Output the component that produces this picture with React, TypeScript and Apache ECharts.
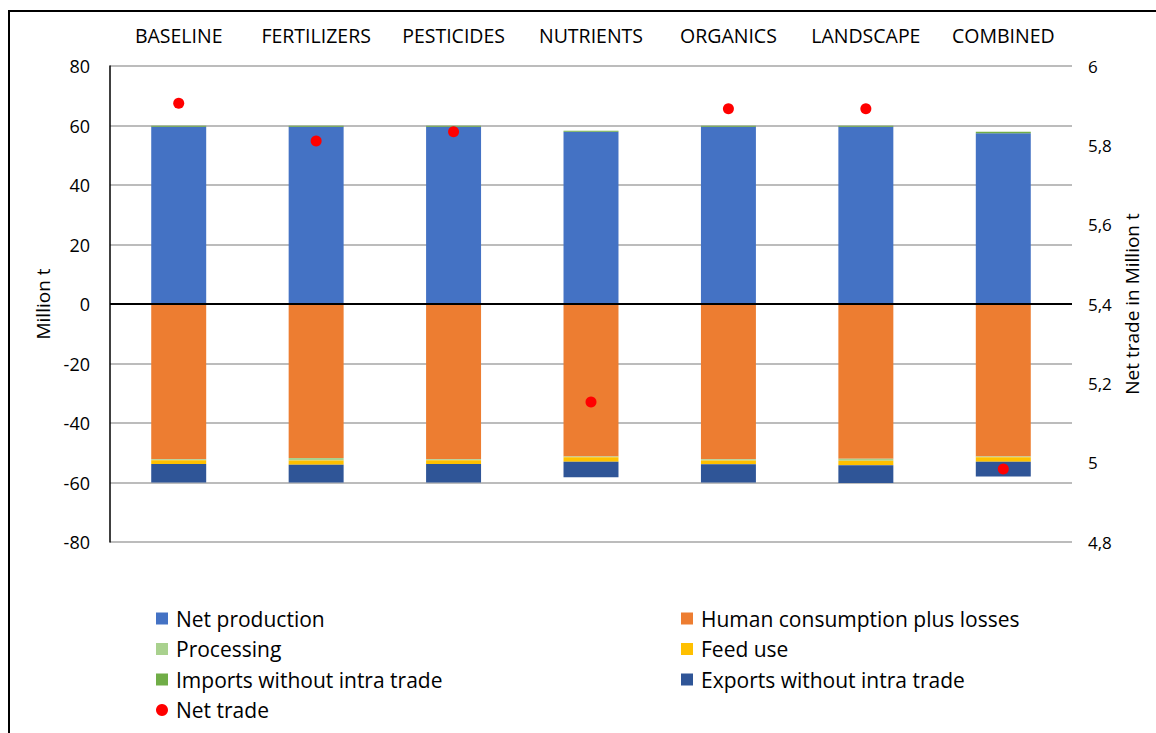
import React, { useEffect, useRef } from "react";
import * as echarts from "echarts";

const categories = ["BASELINE", "FERTILIZERS", "PESTICIDES", "NUTRIENTS", "ORGANICS", "LANDSCAPE", "COMBINED"];
const netProduction = [59.6, 59.6, 59.6, 57.9, 59.6, 59.6, 57.4];
const humanConsumption = [-52.2, -51.8, -52.2, -51.3, -52.2, -52.0, -51.3];
const processing = [-0.3, -0.8, -0.3, -0.2, -0.4, -0.7, -0.2];
const feedUse = [-1.3, -1.4, -1.3, -1.5, -1.3, -1.5, -1.5];
const imports = [0.3, 0.3, 0.3, 0.3, 0.3, 0.3, 0.5];
const exportsData = [-6.2, -6.0, -6.2, -5.2, -6.1, -6.0, -5.0];
const netTrade = [5.906, 5.811, 5.834, 5.153, 5.892, 5.892, 4.984];

const FONT = "'Open Sans', 'Noto Sans', sans-serif";

export default function App() {
  const ref = useRef<HTMLDivElement>(null);
  useEffect(() => {
    if (!ref.current) return;
    const chart = echarts.init(ref.current, null, { renderer: "svg" });
    const barBase = { type: "bar", stack: "total", barWidth: "40%", yAxisIndex: 0 };
    const legendText = { fontSize: 21, color: "#000", lineHeight: 21, fontFamily: FONT, padding: [0, 0, 0, 3] };
    chart.setOption({
      animation: false,
      backgroundColor: "#fff",
      textStyle: { fontFamily: FONT },
      grid: { left: 110, right: 84, top: 66, bottom: 191, containLabel: false },
      xAxis: {
        type: "category",
        data: categories,
        position: "top",
        axisLine: { show: false },
        axisTick: { show: false },
        axisLabel: { fontSize: 19.5, color: "#000", margin: 21, interval: 0, hideOverlap: false, fontFamily: FONT },
      },
      yAxis: [
        {
          type: "value",
          min: -80,
          max: 80,
          interval: 20,
          name: "Million t",
          nameLocation: "middle",
          nameGap: 53,
          nameTextStyle: { fontSize: 19, color: "#000", fontFamily: FONT },
          axisLine: { show: true, lineStyle: { color: "#000", width: 1.5 } },
          axisTick: { show: false },
          axisLabel: { fontSize: 18, color: "#000", margin: 20, fontFamily: FONT },
          splitLine: { show: true, lineStyle: { color: "#A6A6A6", width: 1.5 } },
        },
        {
          type: "value",
          min: 4.8,
          max: 6,
          interval: 0.2,
          position: "right",
          name: "Net trade in Million t",
          nameLocation: "middle",
          nameGap: 48,
          nameTextStyle: { fontSize: 19, color: "#000", fontFamily: FONT },
          axisLine: { show: false },
          axisTick: { show: false },
          splitLine: { show: false },
          axisLabel: {
            fontSize: 17,
            color: "#000",
            margin: 16,
            fontFamily: FONT,
            formatter: (v: number) => String(parseFloat(v.toFixed(2))).replace(".", ","),
          },
        },
      ],
      legend: [
        {
          orient: "vertical",
          left: 151,
          top: 603,
          itemWidth: 12,
          itemHeight: 12,
          itemGap: 9.5,
          textStyle: legendText,
          data: [
            { name: "Net production", icon: "rect" },
            { name: "Processing", icon: "rect" },
            { name: "Imports without intra trade", icon: "rect" },
            { name: "Net trade", icon: "circle" },
          ],
        },
        {
          orient: "vertical",
          left: 676,
          top: 603,
          itemWidth: 12,
          itemHeight: 12,
          itemGap: 9.5,
          textStyle: legendText,
          data: [
            { name: "Human consumption plus losses", icon: "rect" },
            { name: "Feed use", icon: "rect" },
            { name: "Exports without intra trade", icon: "rect" },
          ],
        },
      ],
      graphic: [
        { type: "line", shape: { x1: 9, y1: 11, x2: 9, y2: 733 }, style: { stroke: "#000", lineWidth: 2 } },
        { type: "line", shape: { x1: 8, y1: 11, x2: 1156, y2: 11 }, style: { stroke: "#000", lineWidth: 2 } },
      ],
      series: [
        {
          ...barBase,
          name: "Net production",
          data: netProduction,
          itemStyle: { color: "#4472C4" },
          markLine: {
            silent: true,
            symbol: "none",
            label: { show: false },
            lineStyle: { color: "#000", width: 2, type: "solid" },
            data: [{ yAxis: 0 }],
          },
        },
        { ...barBase, name: "Human consumption plus losses", data: humanConsumption, itemStyle: { color: "#ED7D31" } },
        { ...barBase, name: "Processing", data: processing, itemStyle: { color: "#A9D18E" } },
        { ...barBase, name: "Feed use", data: feedUse, itemStyle: { color: "#FFC000" } },
        { ...barBase, name: "Imports without intra trade", data: imports, itemStyle: { color: "#70AD47" } },
        { ...barBase, name: "Exports without intra trade", data: exportsData, itemStyle: { color: "#2F5597" } },
        {
          type: "scatter",
          name: "Net trade",
          yAxisIndex: 1,
          data: netTrade,
          symbolSize: 11,
          itemStyle: { color: "#FF0000", opacity: 1 },
          z: 5,
        },
      ],
    });
    return () => chart.dispose();
  }, []);
  return <div ref={ref} style={{ position: "fixed", left: 0, top: 0, width: 1156, height: 733 }} />;
}
